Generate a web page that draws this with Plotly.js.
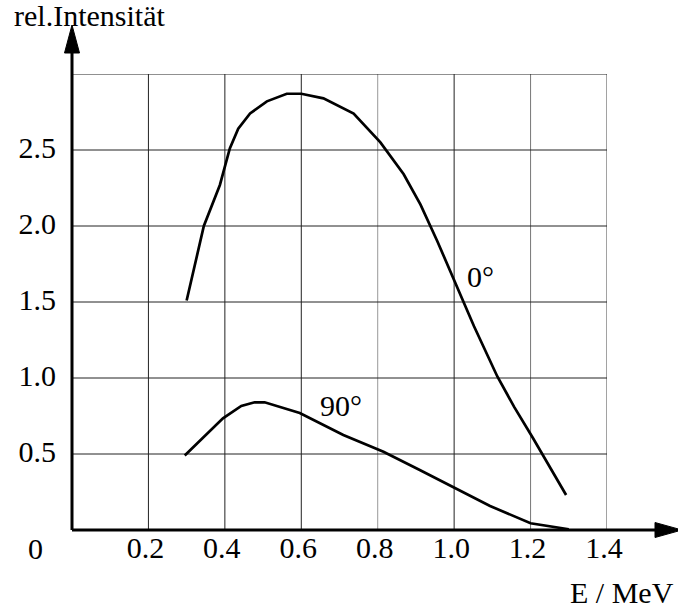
<!DOCTYPE html>
<html>
<head>
<meta charset="utf-8">
<script src="https://cdn.plot.ly/plotly-3.0.1.min.js"></script>
<style>
  html, body { margin: 0; padding: 0; background: #fff; }
  #chart { width: 678px; height: 612px; }
</style>
</head>
<body>
<div id="chart"></div>
<script>
// Energy spectra of the emitted radiation at two observation angles
const energy0 = [0.30, 0.345, 0.387, 0.413, 0.435, 0.466, 0.51, 0.562, 0.60, 0.658, 0.737, 0.807, 0.868, 0.912, 0.956, 1.00, 1.052, 1.113, 1.157, 1.205, 1.293];
const intensity0 = [1.51, 2.00, 2.27, 2.51, 2.64, 2.74, 2.82, 2.87, 2.87, 2.84, 2.74, 2.55, 2.34, 2.14, 1.90, 1.64, 1.34, 1.01, 0.81, 0.61, 0.23];

const energy90 = [0.295, 0.395, 0.443, 0.478, 0.504, 0.596, 0.71, 0.815, 0.91, 1.00, 1.094, 1.20, 1.30];
const intensity90 = [0.49, 0.735, 0.816, 0.84, 0.84, 0.77, 0.625, 0.515, 0.395, 0.28, 0.158, 0.044, 0.005];

// Axis ticks and grid
const xTickVals = [0.2, 0.4, 0.6, 0.8, 1.0, 1.2, 1.4];
const xTickText = ['0.2', '0.4', '0.6', '0.8', '1.0', '1.2', '1.4'];
const yTickVals = [0.5, 1.0, 1.5, 2.0, 2.5];
const yTickText = ['0.5', '1.0', '1.5', '2.0', '2.5'];
const yGridVals = [0.5, 1.0, 1.5, 2.0, 2.5, 3.0];
const xGridColors = ['#222', '#222', '#222', '#999', '#222', '#777', '#444'];

const curveLabels = [
  { text: '0°', x: 1.068, y: 1.665 },
  { text: '90°', x: 0.704, y: 0.822 }
];

const W = 678, H = 612;
const M = { l: 72, r: 71, t: 74, b: 82 };
const plotW = W - M.l - M.r, plotH = H - M.t - M.b;
const px = v => (v - M.l) / plotW;          // pixel column -> paper x
const py = v => (H - M.b - v) / plotH;      // pixel row -> paper y

const FONT = 'Liberation Serif, Times New Roman, serif';
const FS = 30;
const X_MAX = 1.4, Y_MAX = 3.0;

const shapes = [];
// vertical grid lines
xTickVals.forEach((v, i) => shapes.push({
  type: 'line', xref: 'x', yref: 'y', x0: v, x1: v, y0: 0, y1: Y_MAX,
  line: { color: xGridColors[i], width: 1 }, layer: 'below'
}));
// horizontal grid lines
yGridVals.forEach(v => shapes.push({
  type: 'line', xref: 'x', yref: 'y', x0: 0, x1: X_MAX, y0: v, y1: v,
  line: { color: '#222', width: 1 }, layer: 'below'
}));
// axes with arrowheads
const ox = px(M.l), oy = py(H - M.b);
shapes.push({ type: 'line', xref: 'paper', yref: 'paper', x0: ox, y0: oy, x1: ox, y1: py(50), line: { color: '#000', width: 3 } });
shapes.push({ type: 'path', xref: 'paper', yref: 'paper',
  path: `M ${px(M.l - 7.5)} ${py(53)} L ${px(M.l + 7.5)} ${py(53)} L ${ox} ${py(25)} Z`,
  fillcolor: '#000', line: { color: '#000', width: 1 } });
shapes.push({ type: 'line', xref: 'paper', yref: 'paper', x0: ox, y0: oy, x1: px(658), y1: oy, line: { color: '#000', width: 3 } });
shapes.push({ type: 'path', xref: 'paper', yref: 'paper',
  path: `M ${px(655)} ${py(H - M.b - 7.5)} L ${px(655)} ${py(H - M.b + 7.5)} L ${px(682)} ${oy} Z`,
  fillcolor: '#000', line: { color: '#000', width: 1 } });

const annotations = [
  { text: 'rel.Intensität', xref: 'paper', yref: 'paper', x: px(12), y: py(16), xanchor: 'left', yanchor: 'middle', showarrow: false },
  { text: 'E / MeV', xref: 'paper', yref: 'paper', x: px(676), y: py(592), xanchor: 'right', yanchor: 'middle', showarrow: false },
  { text: '0', xref: 'paper', yref: 'paper', x: px(35), y: py(548), xanchor: 'center', yanchor: 'middle', showarrow: false }
].concat(curveLabels.map(c => ({ text: c.text, xref: 'x', yref: 'y', x: c.x, y: c.y, xanchor: 'center', yanchor: 'middle', showarrow: false })))
 .map(a => Object.assign(a, { font: { family: FONT, size: FS, color: '#000' } }));

const lineStyle = { color: '#000', width: 2.7 };
const data = [
  { x: energy0, y: intensity0, type: 'scatter', mode: 'lines', line: lineStyle, name: '0°', cliponaxis: false },
  { x: energy90, y: intensity90, type: 'scatter', mode: 'lines', line: lineStyle, name: '90°', cliponaxis: false }
];

const layout = {
  width: W, height: H,
  margin: M,
  paper_bgcolor: '#fff', plot_bgcolor: '#fff',
  showlegend: false,
  font: { family: FONT, size: FS, color: '#000' },
  xaxis: {
    range: [0, X_MAX], showgrid: false, zeroline: false, showline: false,
    tickvals: xTickVals, ticktext: xTickText, ticks: '',
    ticklabelstandoff: -3, ticklabelshift: -3,
    tickfont: { family: FONT, size: FS, color: '#000' }, fixedrange: true
  },
  yaxis: {
    range: [0, Y_MAX], showgrid: false, zeroline: false, showline: false,
    tickvals: yTickVals, ticktext: yTickText, ticks: '',
    ticklabelstandoff: 15, ticklabelshift: -3,
    tickfont: { family: FONT, size: FS, color: '#000' }, fixedrange: true
  },
  shapes: shapes,
  annotations: annotations
};

Plotly.newPlot('chart', data, layout, { displayModeBar: false, staticPlot: true });
</script>
</body>
</html>
